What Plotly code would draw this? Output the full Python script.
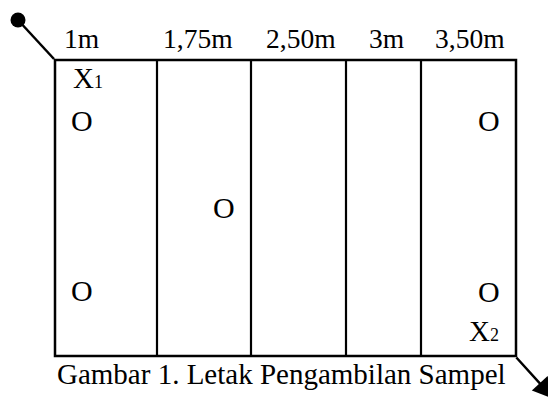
import plotly.graph_objects as go

W, H = 556, 401
PAGE_MARGIN = 8  # default body margin of the html page

# Column headers (distance labels) and their left positions
col_labels = ["1m", "1,75m", "2,50m", "3m", "3,50m"]
label_left = [62, 161, 264, 367, 433]

# Plot boundary (column edges) and top/bottom
col_edges = [55, 157, 251, 346, 421, 516]
plot_top, plot_bottom = 60, 356

# Sampling points (O)
sample_x = [82, 489, 224, 82, 489]
sample_y = [120, 120, 207, 290, 291]

# Start/end markers
x1_pos = (71, 78)
x2_pos = (501, 331)

caption = "Gambar 1. Letak Pengambilan Sampel"
caption_center = (281, 374)

FONT = "Liberation Serif, Times New Roman, serif"

fig = go.Figure()

shapes = [dict(type="rect", x0=col_edges[0], x1=col_edges[-1], y0=plot_top, y1=plot_bottom,
               line=dict(color="black", width=2.5), xref="x", yref="y")]
for xe in col_edges[1:-1]:
    shapes.append(dict(type="line", x0=xe, x1=xe, y0=plot_top, y1=plot_bottom,
                       line=dict(color="black", width=2.2), xref="x", yref="y"))
shapes.append(dict(type="line", x0=18, y0=20, x1=col_edges[0] - 1, y1=plot_top - 1,
                   line=dict(color="black", width=2.5), xref="x", yref="y"))
fig.update_layout(shapes=shapes)

fig.add_trace(go.Scatter(x=[18], y=[20], mode="markers",
                         marker=dict(size=15, color="black"), hoverinfo="skip"))

annotations = []
for lab, lx in zip(col_labels, label_left):
    annotations.append(dict(x=lx, y=38, text=lab, showarrow=False, xanchor="left",
                            yanchor="middle", font=dict(family=FONT, size=27.5, color="black")))
for sx, sy in zip(sample_x, sample_y):
    annotations.append(dict(x=sx, y=sy, text="O", showarrow=False, xanchor="center",
                            yanchor="middle", font=dict(family=FONT, size=30, color="black")))
annotations.append(dict(x=x1_pos[0], y=x1_pos[1],
                        text="X<span style='font-size:18px'>1</span>", showarrow=False,
                        xanchor="left", yanchor="middle",
                        font=dict(family=FONT, size=29, color="black")))
annotations.append(dict(x=x2_pos[0], y=x2_pos[1],
                        text="X<span style='font-size:18px'>2</span>", showarrow=False,
                        xanchor="right", yanchor="middle",
                        font=dict(family=FONT, size=29, color="black")))
annotations.append(dict(x=caption_center[0], y=caption_center[1], text=caption,
                        showarrow=False, xanchor="center", yanchor="middle",
                        font=dict(family=FONT, size=29, color="black")))
annotations.append(dict(x=554, y=399, ax=col_edges[-1] - 1, ay=plot_bottom, axref="x", ayref="y",
                        xref="x", yref="y", text="", showarrow=True, arrowhead=2,
                        arrowsize=1.7, arrowwidth=2.5, arrowcolor="black", standoff=0,
                        startstandoff=0))

fig.update_layout(
    annotations=annotations,
    width=W - PAGE_MARGIN, height=H - PAGE_MARGIN,
    margin=dict(l=0, r=0, t=0, b=0),
    paper_bgcolor="white", plot_bgcolor="white",
    showlegend=False,
    xaxis=dict(range=[PAGE_MARGIN, W], visible=False, fixedrange=True),
    yaxis=dict(range=[H, PAGE_MARGIN], visible=False, fixedrange=True),
)

fig.write_html("out.html", config={"displayModeBar": False})
